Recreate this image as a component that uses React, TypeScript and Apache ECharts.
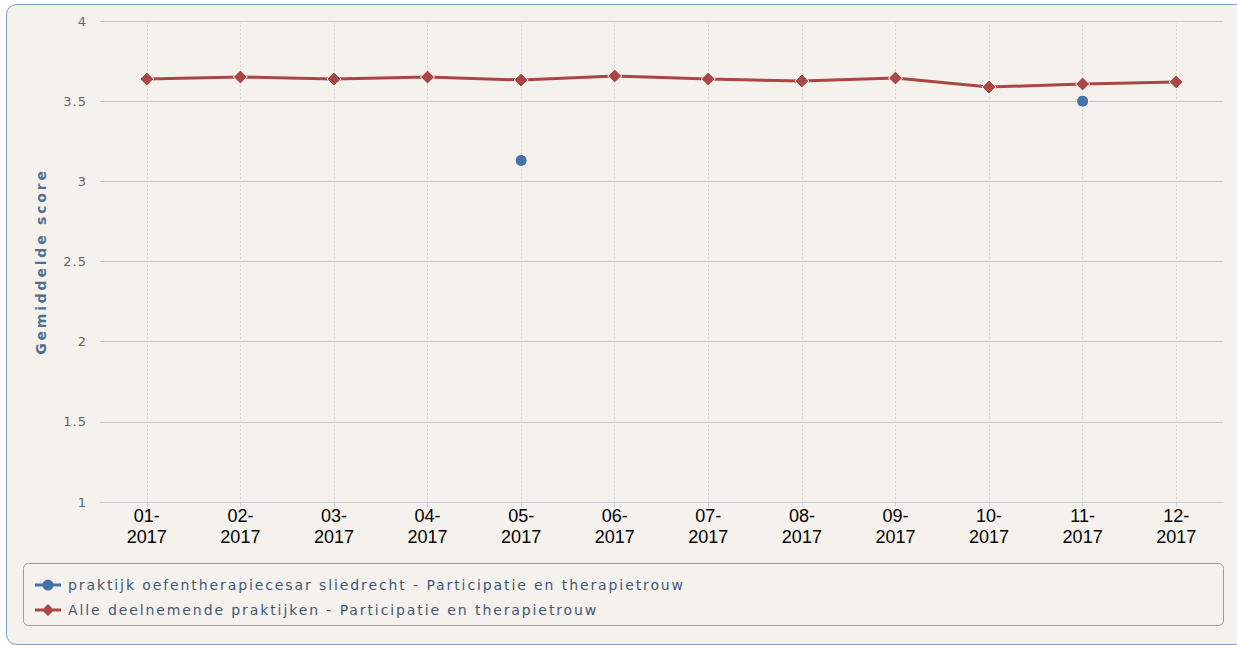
import React, { useEffect, useRef } from "react";
import * as echarts from "echarts";

const categories = ["01-\n2017", "02-\n2017", "03-\n2017", "04-\n2017", "05-\n2017", "06-\n2017", "07-\n2017", "08-\n2017", "09-\n2017", "10-\n2017", "11-\n2017", "12-\n2017"];
const praktijkValues: (number | null)[] = [null, null, null, null, 3.13, null, null, null, null, null, 3.5, null];
const alleValues = [3.638, 3.651, 3.638, 3.65, 3.632, 3.657, 3.638, 3.626, 3.644, 3.588, 3.607, 3.62];
const praktijkName = "praktijk oefentherapiecesar sliedrecht - Participatie en therapietrouw";
const alleName = "Alle deelnemende praktijken - Participatie en therapietrouw";
const yAxisName = "Gemiddelde score";

const circleIcon = "path://M0,4.5 H26 V7.5 H0 Z M7.5,6 A5.5,5.5 0 1,1 18.5,6 A5.5,5.5 0 1,1 7.5,6 Z M0,0 Z M26,12 Z";
const diamondIcon = "path://M0,4.5 H26 V7.5 H0 Z M13,0 L19,6 L13,12 L7,6 Z";

const css = `
#root text[style*="DejaVu Sans"] { letter-spacing: 1.9px; }
#root text[style*="bold"] { letter-spacing: 2.8px; }
#root text[style*="13px"] { letter-spacing: 1px; }
`;

export default function App() {
  const ref = useRef<HTMLDivElement>(null);
  useEffect(() => {
    if (!ref.current) return;
    const chart = echarts.init(ref.current, null, { renderer: "svg" });
    chart.setOption({
      animation: false,
      backgroundColor: "#ffffff",
      graphic: [
        {
          type: "rect",
          z: -10,
          shape: { x: 6.5, y: 4.5, width: 1240, height: 640, r: 10 },
          style: { fill: "#f5f1ed", stroke: "#7b9dc8", lineWidth: 1 },
          silent: true,
        },
        {
          type: "rect",
          z: -5,
          shape: { x: 23.5, y: 563.5, width: 1200, height: 62, r: 5 },
          style: { fill: "none", stroke: "#9a9a9a", lineWidth: 1 },
          silent: true,
        },
      ],
      grid: { left: 100, right: 14, top: 21, bottom: 143, containLabel: false },
      legend: {
        orient: "vertical",
        left: 30,
        top: 573,
        itemWidth: 26,
        itemHeight: 12,
        itemGap: 11,
        itemStyle: { borderWidth: 0 },
        textStyle: { color: "#3e5977", fontSize: 14, fontFamily: "DejaVu Sans", padding: [0, 0, 0, 2] },
        data: [
          { name: praktijkName, icon: circleIcon },
          { name: alleName, icon: diamondIcon },
        ],
      },
      xAxis: {
        type: "category",
        data: categories,
        boundaryGap: true,
        axisLine: { lineStyle: { color: "#c0d0e0", width: 1 } },
        axisTick: { show: true, alignWithLabel: true, length: 5, lineStyle: { color: "#c0d0e0" } },
        axisLabel: { color: "#000000", fontSize: 18, fontFamily: "Liberation Sans", lineHeight: 21, margin: 3, interval: 0 },
        splitLine: { show: true, alignWithLabel: true, lineStyle: { color: "#d4d4d4", type: [2, 2], width: 1 } },
      },
      yAxis: {
        type: "value",
        min: 1,
        max: 4,
        interval: 0.5,
        name: yAxisName,
        nameLocation: "middle",
        nameGap: 52,
        nameTextStyle: { color: "#4f6f92", fontSize: 14, fontWeight: "bold", fontFamily: "DejaVu Sans" },
        axisLine: { show: false },
        axisTick: { show: false },
        axisLabel: { color: "#666666", fontSize: 13, fontFamily: "DejaVu Sans", margin: 13 },
        splitLine: { show: true, lineStyle: { color: "#c6c6c6", width: 1 } },
      },
      series: [
        {
          name: praktijkName,
          type: "line",
          data: praktijkValues,
          connectNulls: false,
          symbol: "circle",
          symbolSize: 12,
          color: "#4572a7",
          itemStyle: { color: "#4572a7", borderColor: "#ffffff", borderWidth: 1 },
          lineStyle: { color: "#4572a7", width: 3 },
          z: 3,
        },
        {
          name: alleName,
          type: "line",
          data: alleValues,
          symbol: "diamond",
          symbolSize: 14,
          color: "#aa4643",
          itemStyle: { color: "#aa4643", borderColor: "#ffffff", borderWidth: 1 },
          lineStyle: { color: "#aa4643", width: 3 },
          z: 2,
        },
      ],
    });
    return () => chart.dispose();
  }, []);
  return (
    <>
      <style>{css}</style>
      <div ref={ref} style={{ position: "fixed", left: 0, top: 0, width: 1237, height: 645 }} />
    </>
  );
}
